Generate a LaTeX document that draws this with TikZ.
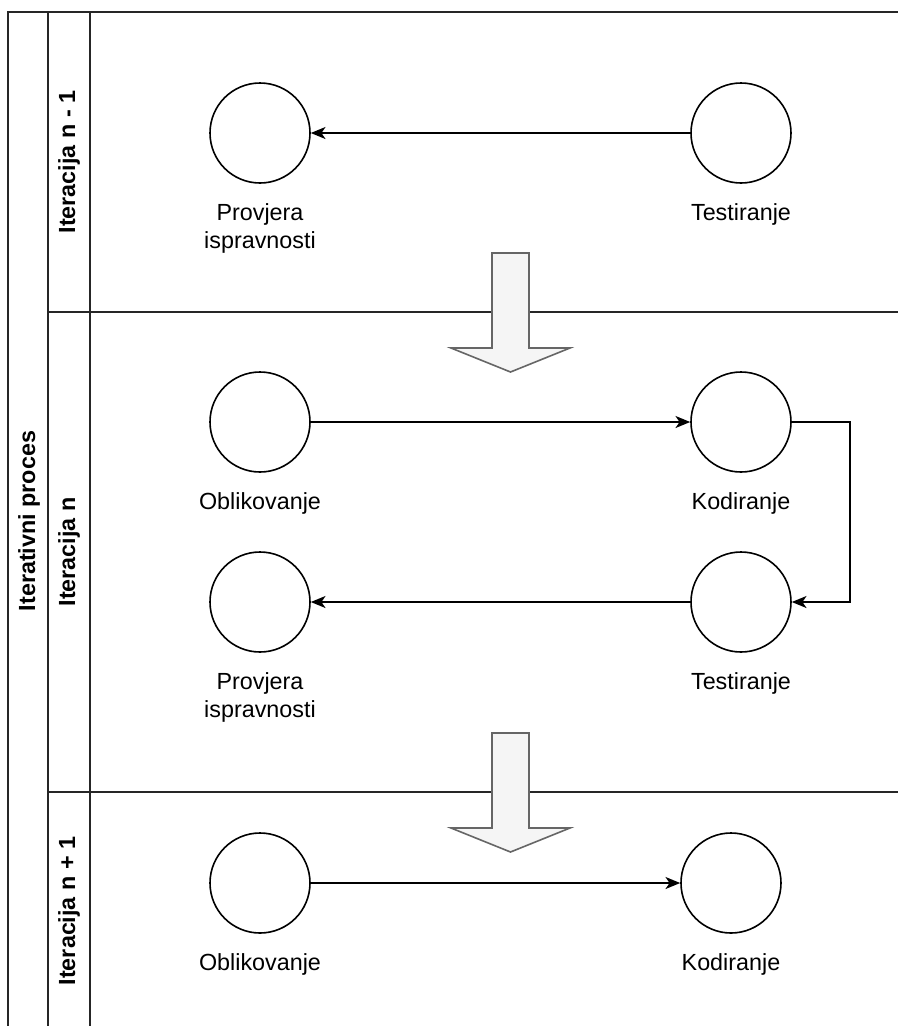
\documentclass[tikz,border=0pt]{standalone}
\usepackage{fontspec}
\setmainfont{Liberation Sans}
\usetikzlibrary{arrows.meta}
\definecolor{blockfill}{HTML}{F5F5F5}
\definecolor{blockline}{HTML}{666666}
\begin{document}
\begin{tikzpicture}[x=0.75pt,y=-0.75pt,
  frame/.style={draw=black!85,line width=1.3pt},
  activity/.style={circle,draw=black,line width=1.2pt,minimum size=75pt,inner sep=0pt,fill=white},
  lbl/.style={anchor=north,inner sep=0pt,align=center,font=\fontsize{17.5}{21}\selectfont},
  lanetitle/.style={rotate=90,inner sep=0pt,font=\fontsize{17.5}{21}\selectfont\bfseries},
  flow/.style={draw=black,line width=1.2pt,-{Stealth[length=11pt,width=9pt,inset=3pt]}},
  blockarrow/.style={fill=blockfill,draw=blockline,line width=1.2pt,line join=miter}]
\useasboundingbox (0,0) rectangle (898,1026);
\clip (0,0) rectangle (898,1026);
\fill[white] (0,0) rectangle (898,1026);

% pool and lane frames
\draw[frame] (8,1040) -- (8,12) -- (910,12);
\draw[frame] (48,12) -- (48,1040);
\draw[frame] (90,12) -- (90,1040);
\draw[frame] (48,312) -- (910,312);
\draw[frame] (48,792) -- (910,792);

% titles
\node[lanetitle] (pool) at (29,521) {Iterativni proces};
\node[lanetitle] (lane1) at (69,162) {Iteracija n - 1};
\node[lanetitle] (lane2) at (69,552) {Iteracija n};
\node[lanetitle] (lane3) at (69,911) {Iteracija n + 1};

% block arrows between iterations
\draw[blockarrow] (492,253) -- (529,253) -- (529,348) -- (570,348) -- (510.5,372) -- (451,348) -- (492,348) -- cycle;
\draw[blockarrow] (492,733) -- (529,733) -- (529,828) -- (570,828) -- (510.5,852) -- (451,828) -- (492,828) -- cycle;

% iteration n - 1
\node[activity] (a1) at (260,133) {};
\node[activity] (b1) at (741,133) {};
\node[lbl] (a1t) at ([yshift=-15pt]a1.south) {Provjera\\ispravnosti};
\node[lbl] (b1t) at ([yshift=-15pt]b1.south) {Testiranje};
\draw[flow] (b1) -- (a1);

% iteration n
\node[activity] (a2) at (260,422) {};
\node[activity] (b2) at (741,422) {};
\node[activity] (c2) at (260,602) {};
\node[activity] (d2) at (741,602) {};
\node[lbl] (a2t) at ([yshift=-15pt]a2.south) {Oblikovanje};
\node[lbl] (b2t) at ([yshift=-15pt]b2.south) {Kodiranje};
\node[lbl] (c2t) at ([yshift=-15pt]c2.south) {Provjera\\ispravnosti};
\node[lbl] (d2t) at ([yshift=-15pt]d2.south) {Testiranje};
\draw[flow] (a2) -- (b2);
\coordinate (loop) at (850,0);
\draw[flow] (b2.east) -- (b2.east -| loop) -- (d2.east -| loop) -- (d2.east);
\draw[flow] (d2) -- (c2);

% iteration n + 1
\node[activity] (a3) at (260,883) {};
\node[activity] (b3) at (731,883) {};
\node[lbl] (a3t) at ([yshift=-15pt]a3.south) {Oblikovanje};
\node[lbl] (b3t) at ([yshift=-15pt]b3.south) {Kodiranje};
\draw[flow] (a3) -- (b3);
\end{tikzpicture}
\end{document}
